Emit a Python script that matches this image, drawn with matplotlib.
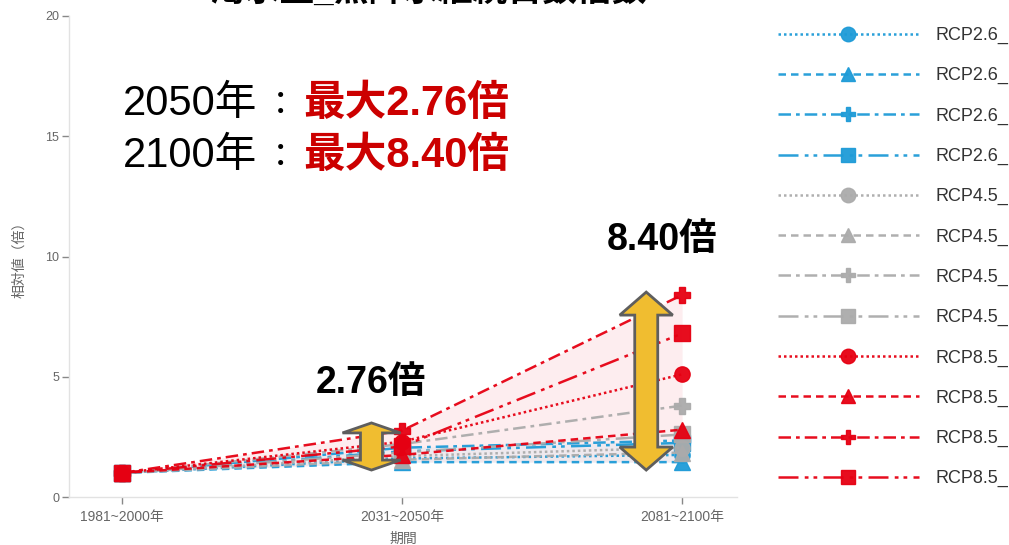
import matplotlib
matplotlib.use('Agg')
import matplotlib.pyplot as plt
from matplotlib.patches import Polygon
import numpy as np

# ---------------- data ----------------
periods = ['1981~2000年', '2031~2050年', '2081~2100年']

rcp26_circle   = [1.0, 1.60, 1.75]
rcp26_triangle = [1.0, 1.45, 1.45]
rcp26_cross    = [1.0, 2.05, 2.35]
rcp26_square   = [1.0, 1.90, 2.25]

rcp45_circle   = [1.0, 1.70, 2.05]
rcp45_triangle = [1.0, 1.55, 1.85]
rcp45_cross    = [1.0, 2.20, 3.80]
rcp45_square   = [1.0, 1.85, 2.60]

rcp85_circle   = [1.0, 2.30, 5.10]
rcp85_triangle = [1.0, 1.75, 2.80]
rcp85_cross    = [1.0, 2.76, 8.40]
rcp85_square   = [1.0, 2.10, 6.80]

series_values = [rcp26_circle, rcp26_triangle, rcp26_cross, rcp26_square,
                 rcp45_circle, rcp45_triangle, rcp45_cross, rcp45_square,
                 rcp85_circle, rcp85_triangle, rcp85_cross, rcp85_square]
series_labels = ['RCP2.6_'] * 4 + ['RCP4.5_'] * 4 + ['RCP8.5_'] * 4

max_2050 = 2.76
max_2100 = 8.40

# ---------------- styles ----------------
BLUE = '#1E9BD7'
GRAY = '#ABABAB'
RED = '#E60012'
colors = [BLUE] * 4 + [GRAY] * 4 + [RED] * 4
markers = ['o', '^', 'P', 's'] * 3
dash_styles = [(0, (1, 1.2)), (0, (3, 2)), (0, (5, 2, 1.5, 2)), (0, (8, 2.5, 1.5, 2, 1.5, 2.5))] * 3

LATIN_CJK = ['Liberation Sans', 'Noto Sans CJK JP', 'DejaVu Sans']
plt.rcParams['font.family'] = LATIN_CJK

W, H = 1009, 545
fig = plt.figure(figsize=(W / 100, H / 100), dpi=100)

ax_left, ax_right, ax_top, ax_bottom = 69, 737, 16, 497
ax = fig.add_axes([ax_left / W, 1 - ax_bottom / H, (ax_right - ax_left) / W, (ax_bottom - ax_top) / H])

x = np.arange(len(periods))
xlim = (-(122 - 69) / 280.5, 2 + (737 - 682) / 280.5)
ax.set_xlim(*xlim)
ax.set_ylim(0, 20)

# shading between min and max
arr = np.array(series_values)
ax.fill_between(x, arr.min(axis=0), arr.max(axis=0), color='#F4A0A8', alpha=0.18, lw=0, zorder=1)
arr26 = np.array(series_values[:4])
ax.fill_between(x, arr26.min(axis=0), arr26.max(axis=0), color='#9FD3EE', alpha=0.15, lw=0, zorder=1)

handles = []
for vals, lab, c, m, ls in zip(series_values, series_labels, colors, markers, dash_styles):
    h, = ax.plot(x, vals, color=c, marker=m, markersize=11, linestyle=ls, lw=1.8,
                 label=lab, zorder=3, alpha=0.95)
    handles.append(h)

# axes style
for s in ['top', 'right']:
    ax.spines[s].set_visible(False)
for s in ['left', 'bottom']:
    ax.spines[s].set_color('#E2E2E2')
    ax.spines[s].set_linewidth(1.0)
ax.set_yticks([0, 5, 10, 15, 20])
ax.set_xticks(x)
ax.set_xticklabels(periods)
ax.tick_params(axis='y', length=5, width=1, color='#888888', labelcolor='#666666', labelsize=9, pad=2)
ax.tick_params(axis='x', length=5, width=1, color='#888888', labelcolor='#666666', labelsize=10, pad=4, direction='out')
ax.set_xlabel('期間', fontsize=10, color='#666666', labelpad=6)
ax.set_ylabel('相対値（倍）', fontsize=10, color='#666666', labelpad=14)

# ---------------- double arrows ----------------
def double_arrow(xc, y0, y1, shaft_px, head_w_px, head_len_px):
    px_per_x = (ax_right - ax_left) / (xlim[1] - xlim[0])
    px_per_y = (ax_bottom - ax_top) / 20.0
    sw = shaft_px / px_per_x / 2
    hw = head_w_px / px_per_x / 2
    hl = head_len_px / px_per_y
    pts = [(xc, y1), (xc + hw, y1 - hl), (xc + sw, y1 - hl), (xc + sw, y0 + hl),
           (xc + hw, y0 + hl), (xc, y0), (xc - hw, y0 + hl), (xc - sw, y0 + hl),
           (xc - sw, y1 - hl), (xc - hw, y1 - hl)]
    poly = Polygon(pts, closed=True, facecolor='#F0BD30', edgecolor='#5E5E5E', lw=2, zorder=5)
    ax.add_patch(poly)

double_arrow(0.891, 1.12, 3.08, 22, 58, 10)
double_arrow(1.872, 1.12, 8.52, 23, 53, 23)

ax.text(0.888, 4.74, f'{max_2050:.2f}倍', fontsize=27, fontweight='bold', color='black',
        ha='center', va='center', zorder=6)
ax.text(1.929, 10.69, f'{max_2100:.2f}倍', fontsize=27, fontweight='bold', color='black',
        ha='center', va='center', zorder=6)

# ---------------- big summary text ----------------
def ftext(px, py, s, **kw):
    fig.text(px / W, 1 - py / H, s, **kw)

ftext(123, 115, '2050年', fontsize=30, color='black', va='baseline')
ftext(123, 167, '2100年', fontsize=30, color='black', va='baseline')
ftext(281, 115, '：', fontsize=24, color='black', va='baseline', ha='center')
ftext(281, 167, '：', fontsize=24, color='black', va='baseline', ha='center')
ftext(303, 115, f'最大{max_2050:.2f}倍', fontsize=30, color='#CC0000', fontweight='bold', va='baseline')
ftext(303, 167, f'最大{max_2100:.2f}倍', fontsize=30, color='#CC0000', fontweight='bold', va='baseline')

# clipped title at the very top (only its lower edge shows, as in the reference)
ftext(428, 1, '渇水量_無降水継続日数倍数', fontsize=25, color='black', fontweight='bold',
      va='baseline', ha='center')

# ---------------- legend ----------------
leg = fig.legend(handles=handles, labels=series_labels, loc='upper left',
                 bbox_to_anchor=(778 / W, 1 - 27 / H), frameon=False,
                 fontsize=13, handlelength=7.8, handletextpad=0.9,
                 labelspacing=1.28, borderpad=0, borderaxespad=0, markerscale=0.95)
for t in leg.get_texts():
    t.set_color('#333333')

fig.savefig('out.png', dpi=100)
